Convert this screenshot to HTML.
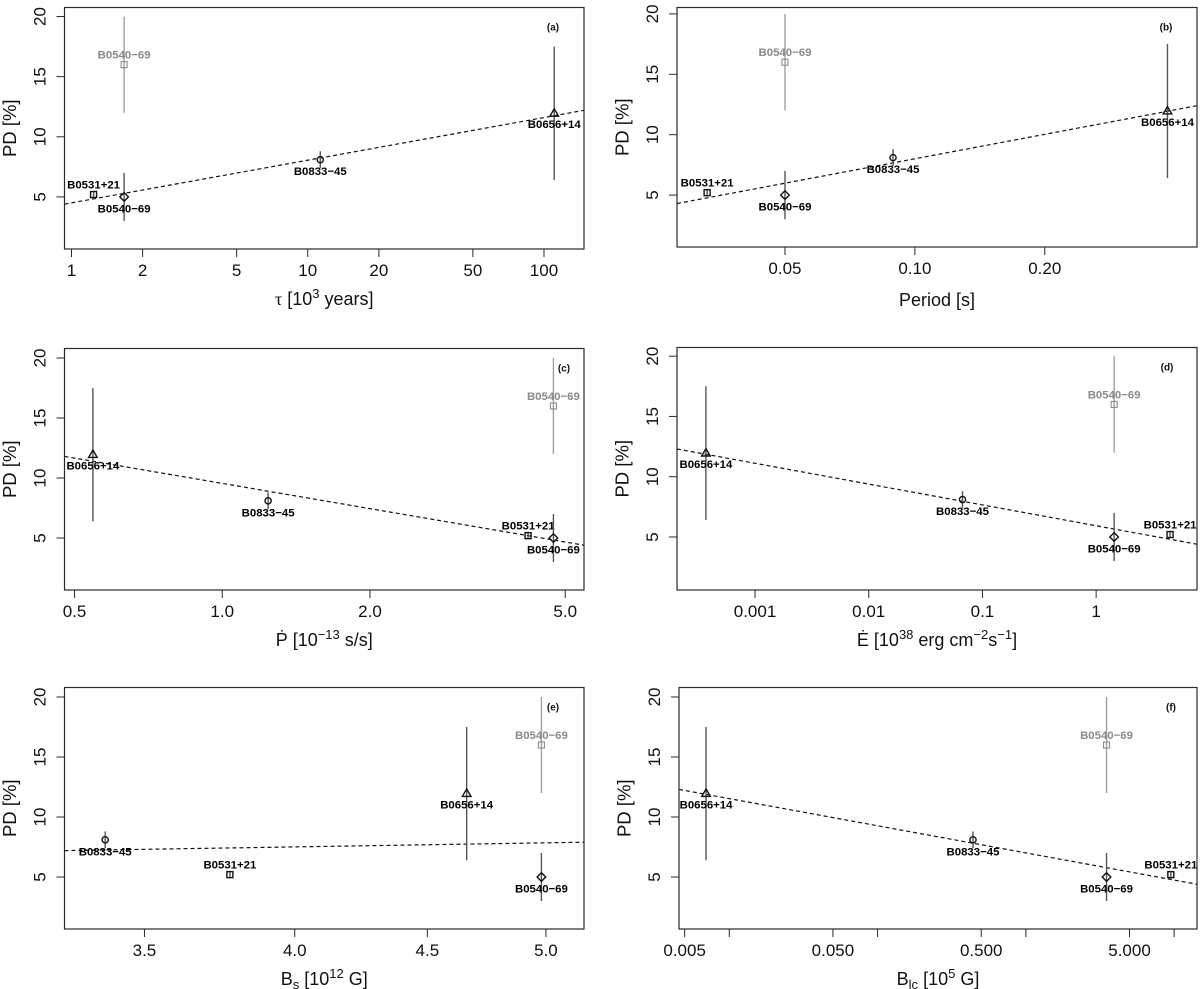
<!DOCTYPE html>
<html lang="en">
<head>
<meta charset="utf-8">
<title>PD correlations</title>
<style>
html,body{margin:0;padding:0;background:#fff;}
svg{display:block;font-family:"Liberation Sans",Arial,sans-serif;}
</style>
</head>
<body>
<svg id="figure" xmlns="http://www.w3.org/2000/svg" width="1200" height="989" viewBox="0 0 1200 989"></svg>
<script>
// Shared series: one entry per plotted point
const pulsarNames = ["B0531+21", "B0540\u221269", "B0540\u221269", "B0833\u221245", "B0656+14"];
const pdValues = [5.2, 5, 16, 8.1, 12];
const pdLow = [4.9, 3, 12, 7.4, 6.4];
const pdHigh = [5.5, 7, 20, 8.8, 17.5];
const markerShapes = ["square", "diamond", "square", "circle", "triangle"];
const markerTones = ["black", "black", "grey", "black", "black"];
const labelSides = ["above", "below", "above", "below", "below"];
const pdTicks = [5, 10, 15, 20];

// Per-panel x values (same point order as above)
const tauValues = [1.24, 1.67, 1.67, 11.3, 110.5];
const periodValues = [0.033, 0.05, 0.05, 0.089, 0.385];
const pdotValues = [4.2, 4.73, 4.73, 1.24, 0.545];
const edotValues = [4.47, 1.44, 1.44, 0.0668, 0.00037];
const bsValues = [3.776, 4.98, 4.98, 3.38, 4.66];
const blcValues = [9.5, 3.5, 3.5, 0.44, 0.00697];

// Per-panel x ticks
const tauTicks = [1, 2, 5, 10, 20, 50, 100];
const tauTickLabels = ["1", "2", "5", "10", "20", "50", "100"];
const periodTicks = [0.05, 0.1, 0.2];
const periodTickLabels = ["0.05", "0.10", "0.20"];
const pdotTicks = [0.5, 1, 2, 5];
const pdotTickLabels = ["0.5", "1.0", "2.0", "5.0"];
const edotTicks = [0.001, 0.01, 0.1, 1];
const edotTickLabels = ["0.001", "0.01", "0.1", "1"];
const bsTicks = [3.5, 4, 4.5, 5];
const bsTickLabels = ["3.5", "4.0", "4.5", "5.0"];
const blcTicks = [0.005, 0.01, 0.05, 0.1, 0.5, 1, 5, 10];
const blcTickLabels = ["0.005", "", "0.050", "", "0.500", "", "5.000", ""];

// Regression line: PD at the left and right edge of each panel
const fitTau = [4.4, 12.2];
const fitPeriod = [4.3, 12.4];
const fitPdot = [11.8, 4.4];
const fitEdot = [12.3, 4.4];
const fitBs = [7.2, 7.9];
const fitBlc = [12.3, 4.4];

const svg = document.getElementById('figure');
const NS = 'http://www.w3.org/2000/svg';

function make(tag, parent, attrs) {
  const el = document.createElementNS(NS, tag);
  for (const k in attrs) el.setAttribute(k, attrs[k]);
  parent.appendChild(el);
  return el;
}

function drawPanel(p) {
  const W = p.right - p.left, H = p.bottom - p.top;
  const lmin = Math.log(p.xMin), lmax = Math.log(p.xMax);
  const xScale = v => p.left + (Math.log(v) - lmin) / (lmax - lmin) * W;
  const yScale = v => p.bottom - (v - p.yMin) / (p.yMax - p.yMin) * H;
  const axisColor = '#2a2a2a';

  const g = make('g', svg, {});
  
  

  // regression line
  const fit = make('line', g, {
    x1: p.left, y1: yScale(p.fit[0]), x2: p.right, y2: yScale(p.fit[1]),
    stroke: '#111', 'stroke-width': 1.2, 'stroke-dasharray': '4 3'
  });
  
  

  // points
  p.xs.forEach((xv, i) => {
    const cx = xScale(xv), cy = yScale(pdValues[i]);
    const grey = markerTones[i] === 'grey';
    const color = grey ? '#8c8c8c' : '#111';
    const bar = make('line', g, {
      x1: cx, y1: yScale(pdLow[i]), x2: cx, y2: yScale(pdHigh[i]),
      stroke: grey ? '#a0a0a0' : '#555', 'stroke-width': 1.4
    });
    
    

    let mark;
    const style = { fill: 'none', stroke: color, 'stroke-width': grey ? 1.1 : 1.4 };
    if (markerShapes[i] === 'square') {
      mark = make('rect', g, Object.assign({ x: cx - 3, y: cy - 3, width: 6, height: 6 }, style));
    } else if (markerShapes[i] === 'circle') {
      mark = make('circle', g, Object.assign({ cx: cx, cy: cy, r: 3.1 }, style));
    } else if (markerShapes[i] === 'diamond') {
      mark = make('polygon', g, Object.assign({ points: [cx, cy - 4.3, cx + 4.3, cy, cx, cy + 4.3, cx - 4.3, cy].join(' ') }, style));
    } else {
      mark = make('polygon', g, Object.assign({ points: [cx, cy - 4, cx + 4.3, cy + 3.4, cx - 4.3, cy + 3.4].join(' ') }, style));
    }
    
    

    const ly = labelSides[i] === 'above' ? cy - 6 : cy + 15.5;
    const label = make('text', g, {
      x: cx, y: ly, 'text-anchor': 'middle', 'font-size': 11.4,
      'font-weight': 'bold', fill: grey ? '#8a8a8a' : '#000'
    });
    label.textContent = pulsarNames[i];
    
    
  });

  // frame
  const frame = make('rect', g, {
    x: p.left, y: p.top, width: W, height: H, fill: 'none', stroke: axisColor, 'stroke-width': 1.2
  });
  
  

  // x axis
  p.ticks.forEach((t, i) => {
    const x = xScale(t);
    const tick = make('line', g, {
      x1: x, y1: p.bottom, x2: x, y2: p.bottom + 8, stroke: axisColor, 'stroke-width': 1
    });
    
    
    if (p.tickLabels[i]) {
      const tl = make('text', g, {
        x: x, y: p.bottom + 27, 'text-anchor': 'middle', 'font-size': 17, fill: '#111'
      });
      tl.textContent = p.tickLabels[i];
      
      
    }
  });

  // y axis
  pdTicks.forEach(t => {
    const y = yScale(t);
    const tick = make('line', g, {
      x1: p.left - 8, y1: y, x2: p.left, y2: y, stroke: axisColor, 'stroke-width': 1
    });
    
    
    const tl = make('text', g, {
      x: 0, y: 0, 'text-anchor': 'middle', 'font-size': 17, fill: '#111',
      transform: 'translate(' + (p.left - 19) + ' ' + y + ') rotate(-90)'
    });
    tl.textContent = t;
    
    
  });

  const yTitle = make('text', g, {
    x: 0, y: 0, 'text-anchor': 'middle', 'font-size': 18.5, fill: '#111',
    transform: 'translate(' + (p.left - 48.5) + ' ' + (p.top + H / 2) + ') rotate(-90)'
  });
  yTitle.textContent = 'PD [%]';
  
  

  const xTitle = make('text', g, {
    x: p.left + W / 2, y: p.bottom + p.titleGap, 'text-anchor': 'middle', 'font-size': 18, fill: '#111'
  });
  xTitle.innerHTML = p.title;
  
  

  const tag = make('text', g, {
    x: p.tagX, y: p.top + 23, 'text-anchor': 'middle', 'font-size': 10, 'font-weight': 'bold', fill: '#111'
  });
  tag.textContent = '(' + p.key + ')';
  
  
}

const sup = (s, rest) => '<tspan dy="-7" font-size="13">' + s + '</tspan><tspan dy="7">' + rest + '</tspan>';
const sub = (s, rest) => '<tspan dy="4" font-size="13">' + s + '</tspan><tspan dy="-4">' + rest + '</tspan>';

drawPanel({ key: 'a', left: 64.5, right: 584, top: 7.5, bottom: 249, xMin: 0.934, xMax: 147.7, yMin: 0.67, yMax: 20.75, titleGap: 56,
  xs: tauValues, ticks: tauTicks, tickLabels: tauTickLabels, fit: fitTau, tagX: 553,
  title: '<tspan font-family="Liberation Serif, serif">\u03C4</tspan> [10' + sup('3', ' years]') });
drawPanel({ key: 'b', left: 677, right: 1197, top: 7.5, bottom: 247, xMin: 0.0281, xMax: 0.4507, yMin: 0.7, yMax: 20.53, titleGap: 59,
  xs: periodValues, ticks: periodTicks, tickLabels: periodTickLabels, fit: fitPeriod, tagX: 1166,
  title: 'Period [s]' });
drawPanel({ key: 'c', left: 64.5, right: 584, top: 348.5, bottom: 590, xMin: 0.477, xMax: 5.46, yMin: 0.67, yMax: 20.79, titleGap: 56,
  xs: pdotValues, ticks: pdotTicks, tickLabels: pdotTickLabels, fit: fitPdot, tagX: 564,
  title: '\u1E56 [10' + sup('\u221213', ' s/s]') });
drawPanel({ key: 'd', left: 677, right: 1197, top: 347.5, bottom: 590, xMin: 0.000206, xMax: 7.71, yMin: 0.6, yMax: 20.72, titleGap: 56,
  xs: edotValues, ticks: edotTicks, tickLabels: edotTickLabels, fit: fitEdot, tagX: 1167,
  title: '\u0116 [10' + sup('38', ' erg cm') + '<tspan dy="-7" font-size="13">\u22122</tspan><tspan dy="7">s</tspan><tspan dy="-7" font-size="13">\u22121</tspan><tspan dy="7">]</tspan>' });
drawPanel({ key: 'e', left: 64.5, right: 584, top: 687.5, bottom: 929, xMin: 3.26, xMax: 5.172, yMin: 0.67, yMax: 20.79, titleGap: 56,
  xs: bsValues, ticks: bsTicks, tickLabels: bsTickLabels, fit: fitBs, tagX: 553,
  title: 'B' + sub('s', ' [10') + sup('12', ' G]') });
drawPanel({ key: 'f', left: 679, right: 1197, top: 687.5, bottom: 929, xMin: 0.00458, xMax: 14.26, yMin: 0.67, yMax: 20.79, titleGap: 56,
  xs: blcValues, ticks: blcTicks, tickLabels: blcTickLabels, fit: fitBlc, tagX: 1171,
  title: 'B' + sub('lc', ' [10') + sup('5', ' G]') });
</script>
</body>
</html>
